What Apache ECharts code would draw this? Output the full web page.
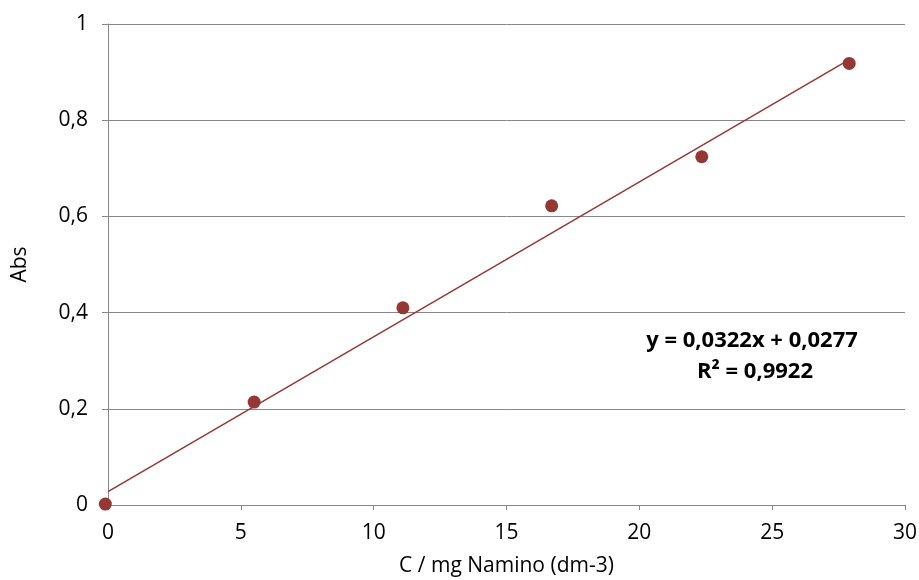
<!DOCTYPE html>
<html>
<head>
<meta charset="utf-8">
<script src="https://cdn.jsdelivr.net/npm/echarts@6/dist/echarts.min.js"></script>
<style>
  html, body { margin: 0; padding: 0; background: #fff; }
  #chart { width: 919px; height: 580px; }
</style>
</head>
<body>
<div id="chart"></div>
<script>
// data
var concX = [-0.1, 5.5, 11.1, 16.7, 22.35, 27.9];
var absY = [0.002, 0.214, 0.41, 0.622, 0.724, 0.918];
// trendline endpoints (y = 0,0322x + 0,0277)
var trendX = [0, 27.9];
var trendY = [0.0277, 0.926];
var eqLines = ['y = 0,0322x + 0,0277', 'R² = 0,9922'];

var font = '"Open Sans", Lato, sans-serif';
var red = '#953735';
var grey = '#878787';

var chart = echarts.init(document.getElementById('chart'));

var points = [];
for (var i = 0; i < concX.length; i++) points.push([concX[i], absY[i]]);
var trend = [];
for (var j = 0; j < trendX.length; j++) trend.push([trendX[j], trendY[j]]);

var option = {
  animation: false,
  backgroundColor: '#fff',
  textStyle: { fontFamily: font },
  grid: { left: 108, right: 14, top: 24, bottom: 75, outerBoundsMode: 'none', containLabel: false },
  xAxis: {
    type: 'value',
    min: 0, max: 30, interval: 5,
    name: 'C / mg Namino (dm-3)',
    nameLocation: 'middle',
    nameGap: 51,
    nameTextStyle: { fontSize: 21, color: '#000', fontFamily: font },
    axisLine: { show: true, lineStyle: { color: grey, width: 1 } },
    axisTick: { show: true, length: 5, lineStyle: { color: grey } },
    axisLabel: { fontSize: 21, color: '#000', margin: 18, fontFamily: font },
    splitLine: { show: false }
  },
  yAxis: {
    type: 'value',
    min: 0, max: 1, interval: 0.2,
    name: 'Abs',
    nameLocation: 'middle',
    nameGap: 77,
    nameTextStyle: { fontSize: 21, color: '#000', fontFamily: font },
    axisLine: { show: true, lineStyle: { color: grey, width: 1 } },
    axisTick: { show: true, length: 6, lineStyle: { color: grey } },
    axisLabel: {
      fontSize: 21, color: '#000', margin: 20, fontFamily: font,
      formatter: function (v) { return String(Math.round(v * 10) / 10).replace('.', ','); }
    },
    splitLine: { show: true, lineStyle: { color: grey, width: 1 } }
  },
  series: [
    {
      name: 'trend',
      type: 'line',
      data: trend,
      symbol: 'none',
      lineStyle: { color: red, width: 1.5 },
      z: 2
    },
    {
      name: 'Abs',
      type: 'scatter',
      data: points,
      symbol: 'circle',
      symbolSize: 13,
      clip: false,
      itemStyle: { color: red, opacity: 1 },
      z: 3
    }
  ],
  graphic: [
    {
      type: 'text', x: 752, y: 341,
      style: { text: eqLines[0], font: 'bold 22px ' + font, fill: '#000', textAlign: 'center', textVerticalAlign: 'middle' }
    },
    {
      type: 'text', x: 755, y: 372,
      style: { text: eqLines[1], font: 'bold 22px ' + font, fill: '#000', textAlign: 'center', textVerticalAlign: 'middle' }
    }
  ]
};

chart.setOption(option);
</script>
</body>
</html>
